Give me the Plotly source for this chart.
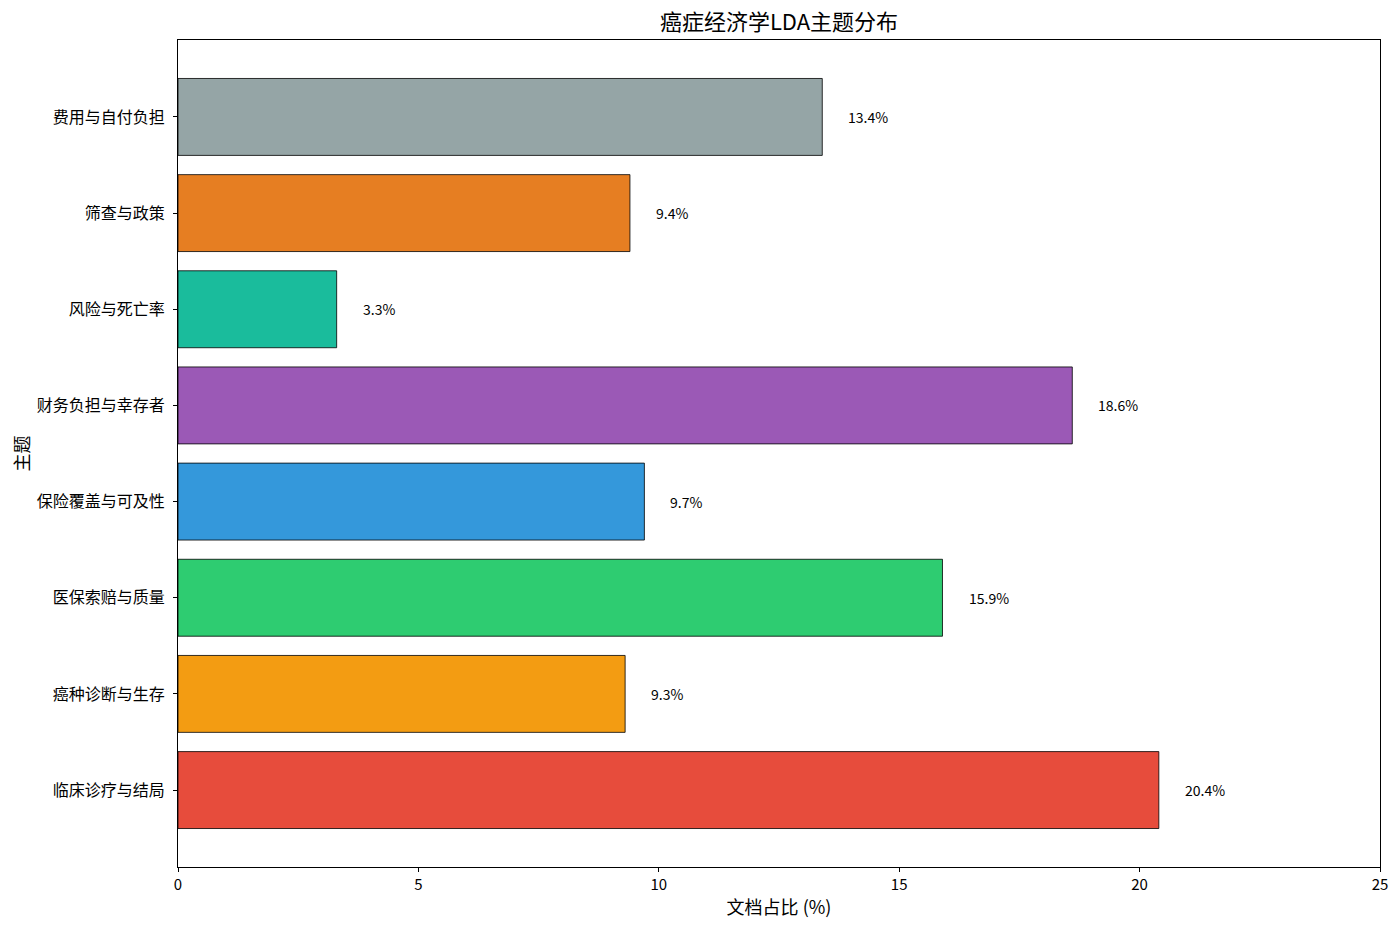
import plotly.graph_objects as go

topics = ["临床诊疗与结局", "癌种诊断与生存", "医保索赔与质量", "保险覆盖与可及性",
          "财务负担与幸存者", "风险与死亡率", "筛查与政策", "费用与自付负担"]
shares = [20.4, 9.3, 15.9, 9.7, 18.6, 3.3, 9.4, 13.4]
colors = ["#e74c3c", "#f39c12", "#2ecc71", "#3498db", "#9b59b6", "#1abc9c", "#e67e22", "#95a5a6"]
x_ticks = [0, 5, 10, 15, 20, 25]

font_cjk = "Noto Sans CJK SC, SimHei, sans-serif"
idx = list(range(len(topics)))

fig = go.Figure()
fig.add_trace(go.Bar(
    x=shares, y=idx, orientation="h", width=0.8,
    marker=dict(color=colors, line=dict(color="black", width=0.8)),
    hoverinfo="skip", showlegend=False,
))
for i, v in zip(idx, shares):
    fig.add_annotation(x=v + 0.5, y=i, text=f"{v:.1f}%", showarrow=False,
                       xanchor="left", yanchor="middle",
                       font=dict(family=font_cjk, size=14, color="black"))

fig.update_layout(
    width=1400, height=928,
    margin=dict(l=170, r=28, t=32, b=69),
    plot_bgcolor="white", paper_bgcolor="white",
    title=dict(text="癌症经济学LDA主题分布", x=0.5, xref="paper", xanchor="center",
               y=0.985, yref="container", yanchor="middle",
               font=dict(family=font_cjk, size=22, color="black")),
    font=dict(family=font_cjk, color="black"),
)
fig.update_xaxes(
    range=[0, 25], tickvals=x_ticks, ticktext=[str(t) for t in x_ticks],
    showgrid=False, zeroline=False, showline=True, linecolor="black", linewidth=1, mirror=True,
    ticks="outside", ticklen=4, tickcolor="black", tickfont=dict(size=15),
    title=dict(text="文档占比 (%)", font=dict(size=18), standoff=8), automargin=False,
)
fig.update_yaxes(
    range=[-0.8, 7.8], tickvals=idx, ticktext=topics,
    showgrid=False, zeroline=False, showline=True, linecolor="black", linewidth=1, mirror=True,
    ticks="outside", ticklen=4, tickcolor="black", tickfont=dict(size=16), ticklabelstandoff=5,
    title=dict(text="主题", font=dict(size=18), standoff=6), automargin=False,
)
fig.write_html("out.html")
